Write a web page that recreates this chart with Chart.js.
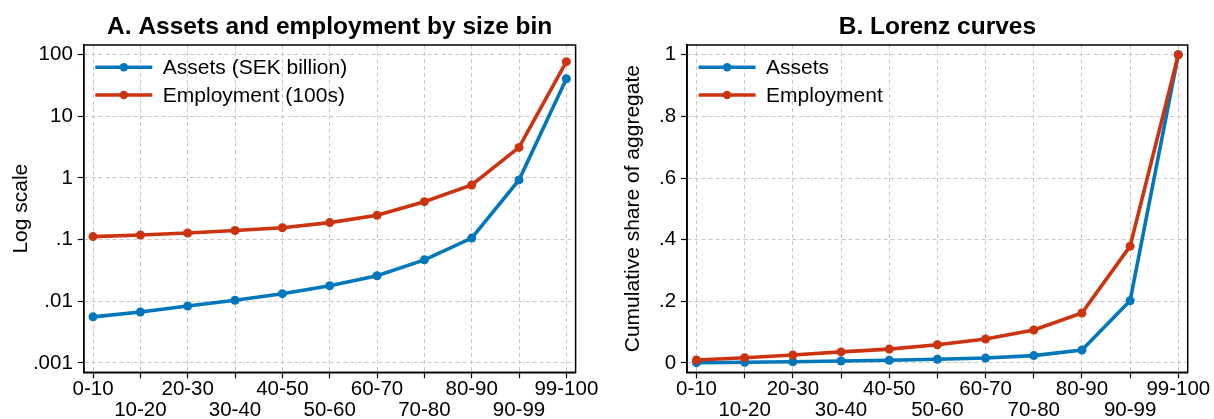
<!DOCTYPE html>
<html><head><meta charset="utf-8">
<script src="https://cdn.jsdelivr.net/npm/chart.js@4.4.1/dist/chart.umd.min.js"></script>
<style>
html,body{margin:0;padding:0;background:#fff;}
#wrap{position:relative;width:1214px;height:419px;overflow:hidden;background:#fff;}
canvas{position:absolute;top:0;}
</style></head><body>
<div id="wrap">
<canvas id="cA" width="607" height="419" style="left:0px"></canvas>
<canvas id="cB" width="607" height="419" style="left:607px"></canvas>
</div>
<script>
// ---- data ----
const categories = ['0-10','10-20','20-30','30-40','40-50','50-60','60-70','70-80','80-90','90-99','99-100'];
const assetsLevel = [0.0056, 0.0067, 0.0084, 0.0104, 0.0133, 0.0179, 0.026, 0.047, 0.106, 0.93, 40.7];
const employmentLevel = [0.112, 0.119, 0.128, 0.141, 0.156, 0.189, 0.248, 0.413, 0.77, 3.13, 77];
const assetsShare = [0.001, 0.0025, 0.004, 0.0065, 0.009, 0.012, 0.016, 0.024, 0.042, 0.202, 1.0];
const employmentShare = [0.0097, 0.017, 0.026, 0.036, 0.045, 0.059, 0.078, 0.107, 0.162, 0.379, 1.0];
const logTicks = [0.001, 0.01, 0.1, 1, 10, 100];
const logTickLabels = ['.001', '.01', '.1', '1', '10', '100'];
const shareTicks = [0, 0.2, 0.4, 0.6, 0.8, 1];
const shareTickLabels = ['0', '.2', '.4', '.6', '.8', '1'];
const titleA = 'A. Assets and employment by size bin';
const titleB = 'B. Lorenz curves';
const seriesLabelsA = ['Assets (SEK billion)', 'Employment (100s)'];
const seriesLabelsB = ['Assets', 'Employment'];

// ---- style ----
const FONT = '"Liberation Sans", Arial, Helvetica, sans-serif';
const BLUE = '#0077BB';
const RED = '#CC3311';
const GRID = '#c8c8c8';

const framePlugin = {
  id: 'frame',
  afterDatasetsDraw(chart) {
    const {ctx, chartArea: a} = chart;
    ctx.save();
    ctx.strokeStyle = '#000';
    ctx.lineWidth = 1.5;
    ctx.strokeRect(a.left, a.top, a.right - a.left, a.bottom - a.top);
    ctx.restore();
  }
};

const legendPlugin = {
  id: 'inLegend',
  afterDatasetsDraw(chart) {
    const {ctx, chartArea: a} = chart;
    ctx.save();
    const x0 = a.left + 11.5, len = 57, gap = 10.5;
    chart.data.datasets.forEach((ds, i) => {
      const y = a.top + 22.3 + i * 27.7;
      ctx.strokeStyle = ds.borderColor;
      ctx.lineWidth = 3.6;
      ctx.beginPath(); ctx.moveTo(x0, y); ctx.lineTo(x0 + len, y); ctx.stroke();
      ctx.fillStyle = ds.borderColor;
      ctx.beginPath(); ctx.arc(x0 + len / 2, y, 4.2, 0, Math.PI * 2); ctx.fill();
      ctx.fillStyle = '#000';
      ctx.font = '21px ' + FONT;
      ctx.textBaseline = 'middle';
      ctx.textAlign = 'left';
      ctx.fillText(ds.label, x0 + len + gap, y + 1);
    });
    ctx.restore();
  }
};

function mkData(vals) { return vals.map((v, i) => ({x: i, y: v})); }

function makeChart(id, opts) {
  const datasets = opts.series.map((vals, i) => ({
    label: opts.labels[i],
    data: mkData(vals),
    borderColor: i === 0 ? BLUE : RED,
    backgroundColor: i === 0 ? BLUE : RED,
    borderWidth: 3.6,
    pointRadius: 4.5,
    pointBorderWidth: 0,
    pointHoverRadius: 4.5,
    tension: 0,
    order: 1 - i
  }));
  const yScale = opts.log ? {
    type: 'logarithmic', min: opts.yMin, max: opts.yMax
  } : {
    type: 'linear', min: opts.yMin, max: opts.yMax
  };
  Object.assign(yScale, {
    afterBuildTicks: s => { s.ticks = opts.yTicks.map(v => ({value: v})); },
    afterFit: s => { s.width = opts.yWidth; s.paddingTop = 0; s.paddingBottom = 0; },
    ticks: {
      callback: v => { const k = opts.yTicks.findIndex(t => Math.abs(t - v) < 1e-9 * Math.max(1, Math.abs(t))); return k >= 0 ? opts.yTickLabels[k] : ''; },
      color: '#000', font: {family: FONT, size: 20.5}, padding: 5, autoSkip: false
    },
    grid: {color: GRID, lineWidth: 1, tickColor: '#000', tickLength: 6, tickWidth: 1.2, drawTicks: true},
    border: {display: true, color: '#000', width: 1.5, dash: [4, 3]},
    title: {display: true, text: opts.yTitle, color: '#000', font: {family: FONT, size: 21, lineHeight: 1.2}, padding: {top: opts.yTitlePad, bottom: 0}}
  });
  return new Chart(document.getElementById(id), {
    type: 'line',
    data: {datasets},
    options: {
      responsive: false,
      animation: false,
      devicePixelRatio: 1,
      layout: {padding: {top: 0, left: 0, right: opts.padRight, bottom: 0}},
      plugins: {
        legend: {display: false},
        tooltip: {enabled: false},
        title: {
          display: true, text: opts.title, fullSize: false, color: '#000',
          font: {family: FONT, size: 24.5, weight: 'bold', lineHeight: 1.2},
          padding: {top: 12.3, bottom: 3.3}
        }
      },
      scales: {
        x: {
          type: 'linear', min: -0.195, max: 10.195, bounds: 'data',
          afterBuildTicks: s => { s.ticks = categories.map((c, i) => ({value: i})); },
          afterFit: s => { s.height = 46.7; s.paddingLeft = 0; s.paddingRight = 0; },
          ticks: {
            autoSkip: false, maxRotation: 0, minRotation: 0, color: '#000', padding: 1,
            font: {family: FONT, size: 20.5, lineHeight: 1.0},
            callback: v => { const i = Math.round(v); return i % 2 === 0 ? [categories[i]] : ['', categories[i]]; }
          },
          grid: {color: GRID, lineWidth: 1, tickColor: '#000', tickLength: 6, tickWidth: 1.2, drawTicks: true},
          border: {display: true, color: '#000', width: 1.5, dash: [4, 3]}
        },
        y: yScale
      }
    },
    plugins: [framePlugin, legendPlugin]
  });
}

makeChart('cA', {
  series: [assetsLevel, employmentLevel], labels: seriesLabelsA, title: titleA,
  log: true, yMin: 0.000706, yMax: 143.5, yTicks: logTicks, yTickLabels: logTickLabels,
  yTitle: 'Log scale', yWidth: 83.8, yTitlePad: 8.4, padRight: 31.4
});
makeChart('cB', {
  series: [assetsShare, employmentShare], labels: seriesLabelsB, title: titleB,
  log: false, yMin: -0.0302, yMax: 1.0315, yTicks: shareTicks, yTickLabels: shareTickLabels,
  yTitle: 'Cumulative share of aggregate', yWidth: 80.1, yTitlePad: 13.4, padRight: 26.3
});
</script>
</body></html>
